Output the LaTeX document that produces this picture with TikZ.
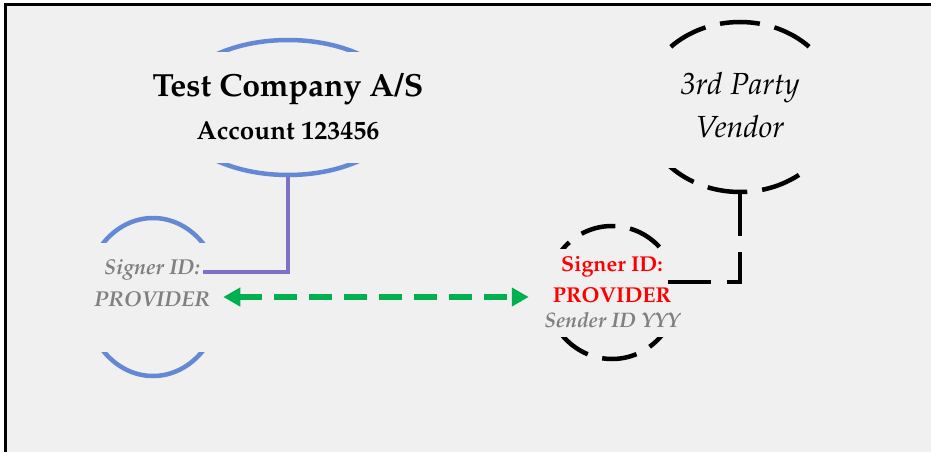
\documentclass[tikz,border=0pt]{standalone}
\usepackage[T1]{fontenc}
\usepackage{mathpazo}
\usepackage{xcolor}
\usetikzlibrary{shapes.geometric,arrows.meta}

\definecolor{panelgray}{RGB}{240,240,240}
\definecolor{ringblue}{RGB}{100,136,212}
\definecolor{tiepurple}{RGB}{126,112,198}
\definecolor{linkgreen}{RGB}{0,176,80}
\definecolor{idgray}{RGB}{128,128,128}

\begin{document}
\begin{tikzpicture}[x=1pt,y=-1pt]
	\useasboundingbox (0,0) rectangle (931,452);
	\fill[white] (0,0) rectangle (931,452);
	\fill[panelgray] (5,5) rectangle (931,452);
	\draw[line width=3pt] (5,452) -- (5,5) -- (931,5);
	\tikzstyle{ring}=[ellipse,line width=4.5pt,inner sep=0pt]
	\tikzstyle{label}=[align=center,inner sep=0pt]
	% rings
	\node[ring,draw=ringblue,minimum width=232pt,minimum height=135pt] (company) at (288,107.5) {};
	\node[ring,draw=ringblue,minimum width=136pt,minimum height=158pt] (signer) at (153,297) {};
	\node[ring,draw,dash pattern=on 40pt off 15pt,dash phase=41pt,minimum width=196pt,minimum height=170pt] (vendor) at (740,107) {};
	\node[ring,draw,dash pattern=on 35pt off 15pt,minimum width=130pt,minimum height=133pt] (sender) at (612,292.5) {};
	% text boxes hide the sides
	\fill[panelgray] (165,52) rectangle (411,163);
	\fill[panelgray] (80,243) rectangle (226,352);
	\fill[panelgray] (635,50) rectangle (845,168);
	\fill[panelgray] (540,249) rectangle (685,337);
	\node[label,font=\fontsize{32}{43}\selectfont\bfseries] (companytxt) at (288,106.5) {Test Company A/S\\{\fontsize{26}{26}\selectfont Account 123456}};
	\node[label,font=\fontsize{21.5}{32}\selectfont\bfseries\itshape,text=idgray] (signertxt) at (152,283) {Signer ID:\\PROVIDER};
	\node[label,font=\fontsize{30.5}{43}\selectfont\itshape] (vendortxt) at (740,105.5) {3rd Party\\Vendor};
	\node[label,font=\fontsize{21.5}{31}\selectfont] (sendertxt) at (612,292) {\textcolor{red}{\bfseries Signer ID:}\\\textcolor{red}{\bfseries PROVIDER}\\[-6pt]\textcolor{idgray}{\fontsize{21}{24}\selectfont\bfseries\itshape Sender ID YYY}};
	% ties
	\coordinate (signertie) at (203,272);
	\coordinate (sendertie) at (668,282);
	\draw[tiepurple,line width=4pt] (company.south) |- (signertie);
	\draw[line width=4.5pt,dash pattern=on 43pt off 16pt] (sendertie) -| (vendor.south);
	\draw[linkgreen,line width=6pt,dash pattern=on 23pt off 12pt,{Triangle[length=17pt,width=18pt]}-{Triangle[length=17pt,width=18pt]}] (signer.east) -- ([xshift=-16pt]signer.east -| sender.west);
\end{tikzpicture}
\end{document}
